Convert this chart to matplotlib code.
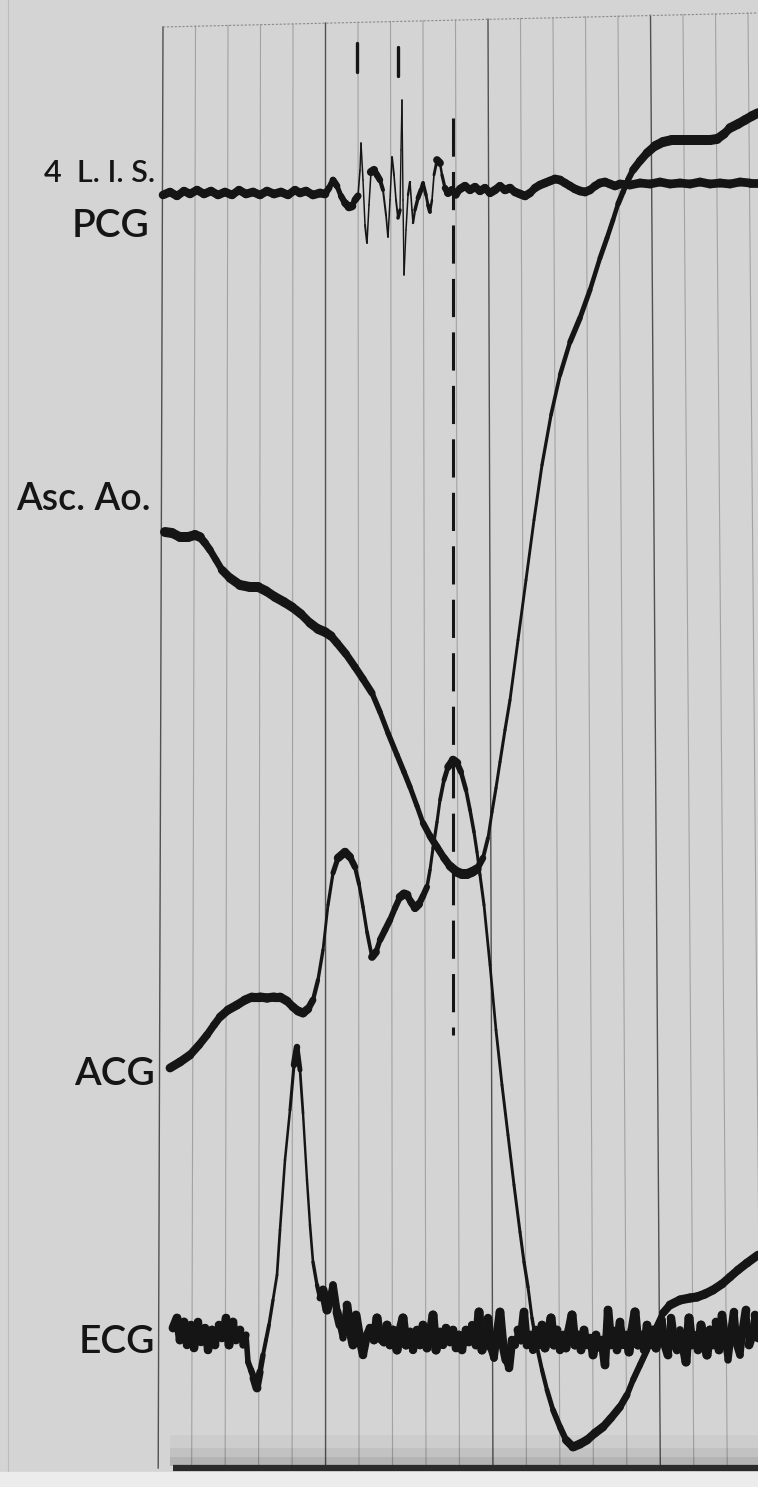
import matplotlib.pyplot as plt
import numpy as np
from matplotlib.collections import LineCollection

pcg_t = [163, 170, 177, 184, 190, 197, 204, 211, 218, 225, 232, 239, 246, 253, 260, 267, 274, 281, 288, 295,
         300, 306, 313, 320, 325, 329, 333, 337, 341, 345, 349, 352, 355, 358, 360, 361, 363, 365, 367, 369,
         371, 374, 377, 380, 383, 386, 388, 390, 392, 394, 396, 398, 400, 401, 402, 403, 404, 406, 408, 410,
         412, 413, 415, 418, 421, 423, 426, 428, 430, 432, 434, 437, 440, 442, 445, 448, 452, 456, 460, 465,
         470, 475, 480, 485, 490, 495, 500, 505, 510, 515, 520, 525, 530, 535, 540, 545, 550, 555, 560, 565,
         570, 575, 580, 585, 590, 595, 600, 605, 610, 615, 620, 630, 640, 650, 660, 670, 680, 690, 700, 710,
         720, 730, 740, 750, 758]
pcg_v = [195, 192, 196, 191, 194, 190, 194, 191, 195, 192, 195, 190, 194, 192, 195, 191, 194, 192, 195, 190,
         193, 191, 195, 193, 194, 188, 180, 186, 196, 203, 207, 206, 200, 196, 170, 143, 180, 225, 243, 205,
         172, 170, 175, 180, 190, 215, 237, 200, 157, 175, 200, 218, 210, 150, 100, 200, 275, 230, 195, 182,
         210, 223, 210, 198, 190, 183, 195, 205, 212, 200, 175, 160, 163, 175, 188, 193, 190, 195, 189, 186,
         190, 187, 191, 188, 193, 190, 186, 190, 188, 192, 194, 196, 193, 188, 185, 183, 181, 179, 180, 183,
         186, 189, 191, 192, 190, 186, 183, 182, 184, 186, 184, 185, 183, 184, 182, 184, 183, 184, 182, 184,
         183, 184, 182, 183, 183]

ao_t = [165, 172, 180, 188, 195, 200, 205, 210, 216, 222, 230, 240, 250, 258, 266, 275, 284, 292, 301, 310,
        318, 325, 331, 337, 346, 355, 363, 372, 380, 388, 397, 404, 410, 417, 423, 430, 437, 444, 450, 457,
        462, 467, 472, 477, 483, 488, 492, 496, 500, 505, 510, 518, 526, 534, 542, 551, 560, 570, 580, 590,
        600, 607, 613, 618, 623, 628, 633, 640, 647, 655, 663, 672, 685, 700, 710, 717, 724, 730, 738, 745,
        752, 758]
ao_v = [532, 533, 537, 537, 535, 537, 543, 550, 560, 570, 578, 585, 587, 587, 591, 597, 602, 607, 614, 623,
        629, 632, 636, 643, 654, 667, 679, 693, 712, 733, 755, 772, 787, 806, 823, 836, 847, 858, 866, 872,
        874, 874, 872, 869, 858, 838, 812, 788, 762, 730, 700, 640, 580, 520, 465, 415, 375, 342, 318, 290,
        258, 238, 220, 204, 192, 180, 170, 161, 153, 146, 142, 140, 140, 140, 140, 139, 134, 128, 124, 120,
        116, 113]

acg_t = [170, 180, 190, 199, 207, 214, 220, 228, 237, 245, 252, 260, 267, 274, 280, 287, 293, 298, 303, 308,
         313, 318, 323, 328, 333, 338, 345, 350, 355, 359, 363, 367, 372, 376, 380, 385, 390, 395, 400, 404,
         407, 411, 415, 419, 423, 427, 430, 433, 437, 440, 444, 448, 453, 457, 461, 466, 470, 474, 477, 480,
         484, 490, 496, 502, 508, 514, 520, 524, 528, 532, 537, 542, 547, 553, 560, 566, 573, 580, 587, 595,
         603, 611, 620, 627, 633, 640, 647, 655, 663, 670, 680, 690, 697, 705, 713, 722, 730, 738, 747, 758]
acg_v = [1068, 1062, 1055, 1045, 1035, 1025, 1017, 1010, 1005, 1000, 997, 997, 998, 997, 997, 1001, 1007, 1011, 1013, 1009,
         1000, 980, 950, 905, 873, 858, 852, 857, 867, 884, 907, 932, 957, 952, 940, 930, 920, 908, 897, 894,
         895, 902, 908, 904, 896, 887, 870, 848, 822, 800, 780, 767, 760, 763, 772, 790, 810, 832, 852, 875,
         905, 965, 1030, 1085, 1135, 1185, 1232, 1262, 1287, 1318, 1347, 1370, 1390, 1410, 1427, 1440, 1447, 1444, 1440, 1433,
         1427, 1418, 1407, 1395, 1380, 1365, 1350, 1330, 1313, 1305, 1300, 1298, 1297, 1294, 1290, 1284, 1277, 1270, 1263, 1255]

ecg_t = [173, 177, 180, 184, 187, 191, 194, 198, 201, 205, 208, 212, 215, 219, 222, 226, 229, 233, 236, 240,
         243, 246, 248, 251, 254, 257, 260, 263, 266, 269, 273, 277, 280, 285, 290, 294, 297, 300, 303, 307,
         310, 313, 317, 320, 323, 327, 330, 333, 337, 340, 343, 347, 350, 353, 356, 360, 363, 367, 370, 374,
         377, 380, 384, 387, 390, 393, 397, 400, 403, 406, 410, 413, 417, 420, 423, 427, 430, 433, 436, 440,
         443, 446, 450, 453, 456, 459, 462, 466, 469, 472, 476, 479, 482, 485, 488, 491, 494, 497, 500, 503,
         506, 509, 512, 515, 518, 521, 524, 527, 530, 533, 536, 539, 542, 545, 548, 551, 554, 557, 560, 563,
         566, 569, 572, 575, 578, 581, 584, 587, 590, 593, 596, 599, 602, 605, 608, 611, 614, 617, 620, 623,
         626, 629, 632, 635, 638, 641, 644, 647, 650, 653, 656, 659, 662, 665, 668, 671, 674, 677, 680, 683,
         686, 689, 692, 695, 698, 701, 704, 707, 710, 713, 716, 719, 722, 725, 728, 731, 734, 737, 740, 743,
         746, 749, 752, 755, 758]
ecg_v = [1328, 1318, 1340, 1322, 1345, 1325, 1348, 1322, 1342, 1328, 1350, 1330, 1345, 1325, 1338, 1318, 1345, 1322, 1340, 1330,
         1345, 1335, 1362, 1370, 1378, 1388, 1372, 1355, 1340, 1325, 1300, 1275, 1230, 1160, 1110, 1065, 1047, 1070, 1113, 1180,
         1225, 1262, 1285, 1298, 1290, 1310, 1300, 1285, 1312, 1325, 1338, 1305, 1330, 1345, 1315, 1340, 1355, 1335, 1328, 1340,
         1318, 1338, 1342, 1325, 1345, 1330, 1350, 1330, 1318, 1345, 1332, 1350, 1330, 1345, 1325, 1348, 1335, 1315, 1350, 1332,
         1345, 1328, 1342, 1330, 1348, 1335, 1350, 1330, 1342, 1325, 1345, 1312, 1350, 1340, 1318, 1348, 1358, 1335, 1312, 1345,
         1360, 1368, 1340, 1345, 1330, 1340, 1312, 1345, 1335, 1350, 1330, 1345, 1325, 1348, 1335, 1318, 1345, 1330, 1350, 1335,
         1348, 1330, 1315, 1345, 1335, 1350, 1330, 1345, 1338, 1355, 1335, 1348, 1340, 1365, 1310, 1345, 1330, 1350, 1322, 1345,
         1335, 1352, 1330, 1312, 1345, 1335, 1350, 1325, 1345, 1330, 1348, 1335, 1320, 1345, 1355, 1318, 1342, 1350, 1330, 1345,
         1362, 1318, 1345, 1335, 1350, 1325, 1342, 1355, 1330, 1345, 1322, 1350, 1315, 1340, 1360, 1335, 1312, 1345, 1355, 1330,
         1310, 1345, 1335, 1315, 1338]

# time lines of the paper, top positions; every 5th one is heavy
grid_t = [163, 195.5, 228, 260.5, 293, 325.5, 358, 390.5, 423, 455.5, 488, 520.5, 553, 585.5, 618, 650.5, 683, 715.5, 748]
sound_marks_t = [357, 398]
dash_t = 453

labels = ["4  L. I. S.", "PCG", "Asc. Ao.", "ACG", "ECG"]
label_v = [173, 226, 500, 1074, 1342]
label_right = [155, 149, 151, 155, 155]
label_size = [22, 28, 27, 28, 28]

paper = "#d4d4d4"
ink = "#151515"


def trace(ax, t, v, wmax, wmin=1.7, s0=3.0, k=1):
    t = np.asarray(t, float)
    v = np.asarray(v, float)
    pts = np.column_stack([t, v])
    segs = np.stack([pts[:-1], pts[1:]], axis=1)
    n = len(t)
    w = []
    for i in range(n - 1):
        lo = max(i - k + 1, 0)
        hi = min(i + k, n - 1)
        s = abs(v[hi] - v[lo]) / max(abs(t[hi] - t[lo]), 0.5)
        w.append(wmin + (wmax - wmin) / (1 + (s / s0) ** 2))
    lc = LineCollection(segs, linewidths=w, colors=ink, capstyle="round", joinstyle="round", zorder=3)
    ax.add_collection(lc)


fig = plt.figure(figsize=(7.58, 14.87), dpi=100)
fig.patch.set_facecolor(paper)
ax = fig.add_axes([0, 0, 1, 1])
ax.set_facecolor(paper)
ax.set_xlim(0, 758)
ax.set_ylim(1487, 0)
ax.axis("off")

# paper grid, slightly skewed like the print
for i, g in enumerate(grid_t):
    heavy = i % 5 == 0
    top = 27 - (g - 163) * 0.024
    ax.plot([g, g + (g - 323) * 0.03], [top, 1468], color="#505050" if heavy else "#a2a2a2",
            lw=1.0 if heavy else 0.8, zorder=1)
ax.plot([163, 758], [27, 13], color="#8a8a8a", lw=0.8, ls=(0, (2, 1.5)), zorder=1)
ax.plot([8, 8], [0, 1475], color="#bcbcbc", lw=0.8, zorder=1)
# darkening towards the bottom edge of the film
for y0, a in zip([1435, 1448, 1457], [0.03, 0.05, 0.07]):
    ax.axhspan(y0, 1466, xmin=170 / 758, xmax=1, color="k", alpha=a, lw=0, zorder=1)
ax.plot([173, 758], [1468, 1468], color="#2a2a2a", lw=4.5, solid_capstyle="butt", zorder=2)
ax.axhspan(1472, 1487, color="#ececec", zorder=2)

trace(ax, pcg_t, pcg_v, 6.3, wmin=1.0, s0=2.5)
trace(ax, ao_t, ao_v, 7.2, s0=2.0)
trace(ax, acg_t, acg_v, 6.6, s0=2.5)
trace(ax, ecg_t, ecg_v, 6.5, wmin=1.4, s0=3.5, k=3)

for m, top in zip(sound_marks_t, [43, 47]):
    ax.plot([m, m], [top, top + 29], color=ink, lw=2.4, solid_capstyle="round", zorder=3)
ax.plot([dash_t, dash_t], [118, 1035], color=ink, lw=2.2, ls=(0, (12.5, 5)), zorder=3)

for lab, v, x, fs in zip(labels, label_v, label_right, label_size):
    ax.text(x, v, lab, ha="right", va="center", fontsize=fs, family="Lato", weight="semibold",
            color=ink, zorder=4)

fig.savefig("out.png", dpi=100, facecolor=paper)
